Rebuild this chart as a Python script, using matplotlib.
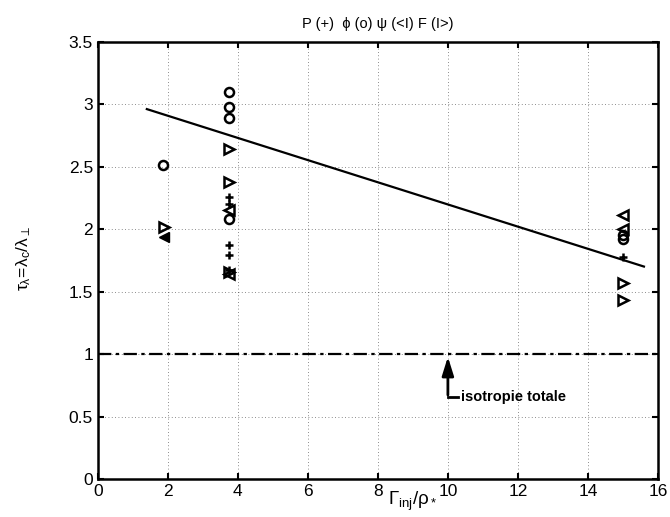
import numpy as np
import matplotlib
matplotlib.use("Agg")
import matplotlib.pyplot as plt

plt.rcParams["font.family"] = ["Liberation Sans", "DejaVu Sans"]
plt.rcParams["mathtext.fontset"] = "custom"
plt.rcParams["mathtext.rm"] = "Liberation Sans"
plt.rcParams["mathtext.it"] = "Liberation Sans"

# P (+)
p_x = [3.75, 3.75, 3.75, 3.75, 3.75, 15.0]
p_y = [2.26, 2.20, 1.87, 1.79, 1.67, 1.78]
# phi (o)
phi_x = [1.87, 3.75, 3.75, 3.75, 3.75, 15.0, 15.0]
phi_y = [2.51, 3.10, 2.98, 2.89, 2.08, 1.95, 1.92]
# psi (<I)
psi_x = [1.9, 3.75, 3.75, 15.0, 15.0]
psi_y = [1.94, 2.15, 1.64, 2.11, 2.00]
# F (I>)
f_x = [1.9, 3.75, 3.75, 3.75, 15.0, 15.0]
f_y = [2.02, 2.64, 2.38, 1.66, 1.57, 1.43]

fit_x = [1.4, 15.6]
fit_y = [2.96, 1.70]

fig = plt.figure(figsize=(6.7, 5.17), dpi=100)
ax = fig.add_axes([0.146, 0.0735, 0.836, 0.846])

ax.plot(fit_x, fit_y, color="black", lw=1.6)
ax.plot(p_x, p_y, "k+", ms=6, mew=1.8, ls="none")
ax.plot(phi_x, phi_y, "o", mfc="none", mec="black", ms=6.5, mew=1.8, ls="none")
ax.plot(psi_x[:1], psi_y[:1], "<", color="black", ms=7.5, ls="none")
ax.plot(psi_x[1:], psi_y[1:], "<", mfc="none", mec="black", ms=6.5, mew=1.8, ls="none")
ax.plot(f_x, f_y, ">", mfc="none", mec="black", ms=6.5, mew=1.8, ls="none")

ax.plot([0, 16], [1, 1], color="black", lw=1.6, ls=(0, (6, 2, 1.5, 2)))
# arrow + label
ax.plot([10, 10.3], [0.66, 0.66], color="black", lw=2)
ax.annotate("", xy=(10, 1.0), xytext=(10, 0.65),
            arrowprops=dict(arrowstyle="-|>,head_width=0.25,head_length=0.8",
                            color="black", lw=2, mutation_scale=14))
ax.text(10.37, 0.66, "isotropie totale", fontsize=10.5, fontweight="bold", va="center", ha="left")

ax.set_xlim(0, 16)
ax.set_ylim(0, 3.5)
ax.set_xticks(np.arange(0, 17, 2))
ax.set_yticks(np.arange(0, 3.6, 0.5))
ax.set_yticklabels(["0", "0.5", "1", "1.5", "2", "2.5", "3", "3.5"])
ax.grid(True, ls=(0, (1, 3)), color="black", lw=0.6, alpha=0.6)
ax.tick_params(direction="in", length=4, width=1.5, labelsize=12.5, top=True, right=True,
               labeltop=False, labelright=False)
for s in ax.spines.values():
    s.set_linewidth(1.8)

ax.set_title("P (+)  \u03d5 (o) \u03c8 (<I) F (I>)", fontsize=10.5, pad=10)
fig.text(0.615, 0.03, r"$\Gamma_{\rm inj}/\rho_*$", fontsize=13.5, ha="center", va="center")
fig.text(0.035, 0.5, r"$\tau_\lambda\!=\!\lambda_c/\lambda_\perp$", fontsize=12.5, rotation=90,
         ha="center", va="center")

fig.savefig("out.png", dpi=100)
